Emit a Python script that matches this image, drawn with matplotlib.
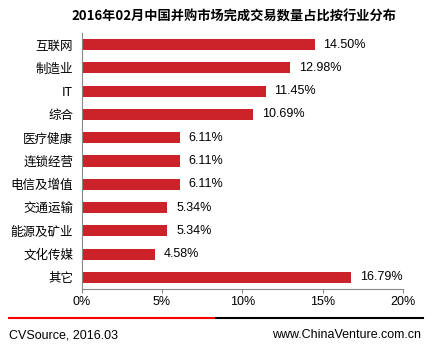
import matplotlib
matplotlib.use('Agg')
import matplotlib.pyplot as plt
from matplotlib.lines import Line2D

plt.rcParams['font.family'] = ['Noto Sans CJK SC', 'DejaVu Sans']

categories = ['互联网', '制造业', 'IT', '综合', '医疗健康', '连锁经营', '电信及增值',
              '交通运输', '能源及矿业', '文化传媒', '其它']
values = [14.50, 12.98, 11.45, 10.69, 6.11, 6.11, 6.11, 5.34, 5.34, 4.58, 16.79]
xticks = [0, 5, 10, 15, 20]
xtick_labels = ['0%', '5%', '10%', '15%', '20%']

latin = ['Liberation Sans', 'DejaVu Sans']

W, H = 432, 346
fig = plt.figure(figsize=(W / 100, H / 100), dpi=100)
ax = fig.add_axes([81.5 / W, 1 - 289 / H, (403 - 81.5) / W, (289 - 33) / H])

ypos = list(range(len(categories)))
ax.barh(ypos, values, height=0.48, color='#CC2229')
for y, v in zip(ypos, values):
    ax.text(v + 0.55, y, f'{v:.2f}%', va='center', ha='left', fontsize=9, family=latin)

ax.set_ylim(len(categories) - 0.5, -0.5)
ax.set_xlim(0, 20)
ax.set_yticks(ypos)
ax.set_yticklabels(categories, fontsize=9)
ax.set_xticks(xticks)
ax.set_xticklabels(xtick_labels, fontsize=9, family=latin)
ax.tick_params(axis='y', length=0, pad=6)
ax.tick_params(axis='x', length=3, color='#888888', pad=2)
for s in ['top', 'right']:
    ax.spines[s].set_visible(False)
ax.spines['left'].set_color('#888888')
ax.spines['bottom'].set_color('#888888')

fig.text(234 / W, 1 - 17 / H, '2016年02月中国并购市场完成交易数量占比按行业分布',
         ha='center', va='center', fontsize=9.5, fontweight='bold')

# footer rule
fig.add_artist(Line2D([9 / W, 216 / W], [1 - 318 / H] * 2, color='#FF0000', lw=1.5))
fig.add_artist(Line2D([216 / W, 423 / W], [1 - 318 / H] * 2, color='#000000', lw=1.5))
fig.text(9 / W, 1 - 335 / H, 'CVSource, 2016.03', ha='left', va='center', fontsize=9, family=latin)
fig.text(421 / W, 1 - 335 / H, 'www.ChinaVenture.com.cn', ha='right', va='center', fontsize=9,
         family=latin)

fig.savefig('out.png', dpi=100)
